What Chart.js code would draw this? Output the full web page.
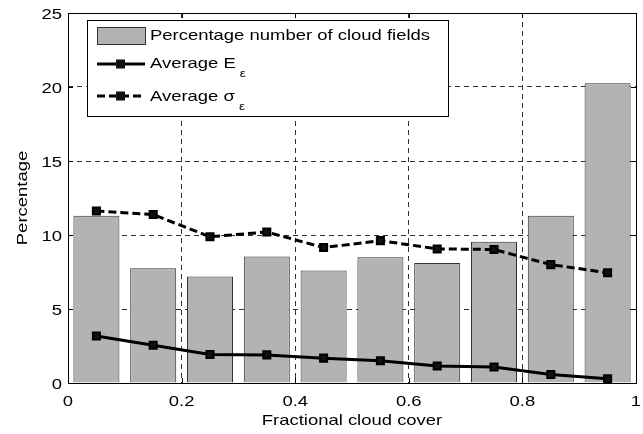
<!DOCTYPE html>
<html>
<head>
<meta charset="utf-8">
<script src="https://cdn.jsdelivr.net/npm/chart.js@4/dist/chart.umd.min.js"></script>
<style>
  body { margin: 0; background: #fff; }
  canvas { display: block; }
</style>
</head>
<body>
<canvas id="cloudChart" width="643" height="434"></canvas>
<script>
// fractional cloud cover bin centres
const cover = [0.05, 0.15, 0.25, 0.35, 0.45, 0.55, 0.65, 0.75, 0.85, 0.95];
const pctFields = [11.3, 7.75, 7.2, 8.55, 7.6, 8.5, 8.1, 9.55, 11.3, 20.25];
const avgE = [3.18, 2.55, 1.93, 1.9, 1.68, 1.5, 1.15, 1.08, 0.58, 0.28];
const avgSigma = [11.62, 11.38, 9.88, 10.2, 9.15, 9.62, 9.06, 9.02, 8.0, 7.45];

const xTicks = [0, 0.2, 0.4, 0.6, 0.8, 1];
const xTickLabels = ['0', '0.2', '0.4', '0.6', '0.8', '1'];
const yTicks = [0, 5, 10, 15, 20, 25];
const yTickLabels = ['0', '5', '10', '15', '20', '25'];
const xTitle = 'Fractional cloud cover';
const yTitle = 'Percentage';

const legendItems = [
    { kind: 'bar', text: 'Percentage number of cloud fields', sub: '' },
    { kind: 'solid', text: 'Average E', sub: 'ε' },
    { kind: 'dashed', text: 'Average σ', sub: 'ε' }
];

const FONT = '"Liberation Sans", Arial, sans-serif';
const STRETCH = 1.23; // original figure's font runs wider than Arial

function pts(values) {
    return cover.map((c, i) => ({ x: c, y: values[i] }));
}

function gridColor(ctx, lo, hi) {
    const v = ctx.tick && ctx.tick.value;
    return (v === lo || v === hi) ? 'rgba(0,0,0,0)' : '#333';
}

// draw text a bit wider, anchored at x,y
function wideText(ctx, text, x, y, align, size, rot) {
    ctx.save();
    ctx.translate(x, y);
    if (rot) ctx.rotate(rot);
    ctx.scale(STRETCH, 1);
    ctx.font = size + 'px ' + FONT;
    ctx.textAlign = align;
    ctx.fillText(text, 0, 0);
    const w = ctx.measureText(text).width * STRETCH;
    ctx.restore();
    return w;
}

// matlab style box, inward ticks, labels and legend
const boxPlugin = {
    id: 'box',
    afterDraw(chart) {
        const { ctx, chartArea: a, scales } = chart;
        ctx.save();
        ctx.strokeStyle = '#000';
        ctx.lineWidth = 1;
        ctx.setLineDash([]);
        ctx.strokeRect(Math.round(a.left) + 0.5, Math.round(a.top) + 0.5,
            Math.round(a.right - a.left), Math.round(a.bottom - a.top));
        ctx.beginPath();
        xTicks.forEach(v => {
            const px = Math.round(scales.x.getPixelForValue(v)) + 0.5;
            ctx.moveTo(px, a.bottom); ctx.lineTo(px, a.bottom - 5);
            ctx.moveTo(px, a.top); ctx.lineTo(px, a.top + 5);
        });
        yTicks.forEach(v => {
            const py = Math.round(scales.y.getPixelForValue(v)) + 0.5;
            ctx.moveTo(a.left, py); ctx.lineTo(a.left + 5, py);
            ctx.moveTo(a.right, py); ctx.lineTo(a.right - 5, py);
        });
        ctx.stroke();

        // tick labels and axis titles
        ctx.fillStyle = '#000';
        ctx.textBaseline = 'alphabetic';
        xTicks.forEach((v, i) => {
            wideText(ctx, xTickLabels[i], scales.x.getPixelForValue(v), a.bottom + 22.5, 'center', 15);
        });
        yTicks.forEach((v, i) => {
            wideText(ctx, yTickLabels[i], a.left - 6, scales.y.getPixelForValue(v) + 5.5, 'right', 15);
        });
        wideText(ctx, xTitle, (a.left + a.right) / 2, a.bottom + 42, 'center', 15);
        wideText(ctx, yTitle, 27, (a.top + a.bottom) / 2, 'center', 15, -Math.PI / 2);

        // legend
        const lx = 87, ly = 20, lw = 361, lh = 96;
        ctx.fillStyle = '#fff';
        ctx.fillRect(lx, ly, lw, lh);
        ctx.strokeStyle = '#000';
        ctx.strokeRect(lx + 0.5, ly + 0.5, lw, lh);
        const rows = [35, 64, 96];
        const baselines = [40, 68, 100.5];
        legendItems.forEach((item, i) => {
            const cy = rows[i];
            if (item.kind === 'bar') {
                ctx.fillStyle = '#b3b3b3';
                ctx.fillRect(97, cy - 8, 48, 17);
                ctx.strokeStyle = '#333';
                ctx.lineWidth = 1;
                ctx.strokeRect(97.5, cy - 7.5, 48, 17);
            } else {
                ctx.strokeStyle = '#000';
                ctx.lineWidth = 3;
                ctx.setLineDash(item.kind === 'dashed' ? [8, 4] : []);
                ctx.beginPath();
                ctx.moveTo(97, cy); ctx.lineTo(145, cy);
                ctx.stroke();
                ctx.setLineDash([]);
                ctx.fillStyle = '#111';
                ctx.fillRect(116, cy - 4.5, 9, 9);
                ctx.lineWidth = 1;
            }
            ctx.fillStyle = '#000';
            const w = wideText(ctx, item.text, 150, baselines[i], 'left', 15);
            if (item.sub) {
                wideText(ctx, item.sub, 150 + w + 4, baselines[i] + 9, 'left', 11);
            }
        });
        ctx.restore();
    }
};

const ctx = document.getElementById('cloudChart').getContext('2d');
const chart = new Chart(ctx, {
    type: 'bar',
    data: {
        datasets: [
            {
                type: 'line',
                label: 'Average σε',
                data: pts(avgSigma),
                borderColor: '#000',
                borderWidth: 3,
                borderDash: [8, 4],
                pointStyle: 'rect',
                pointRadius: 5,
                pointBorderWidth: 2,
                pointBackgroundColor: '#111',
                pointBorderColor: '#000',
                tension: 0,
                order: 1
            },
            {
                type: 'line',
                label: 'Average Eε',
                data: pts(avgE),
                borderColor: '#000',
                borderWidth: 3,
                pointStyle: 'rect',
                pointRadius: 5,
                pointBorderWidth: 2,
                pointBackgroundColor: '#111',
                pointBorderColor: '#000',
                tension: 0,
                order: 0
            },
            {
                type: 'bar',
                label: 'Percentage number of cloud fields',
                data: pts(pctFields),
                backgroundColor: '#b3b3b3',
                borderColor: '#333',
                borderWidth: 1,
                categoryPercentage: 1,
                barPercentage: 0.81,
                order: 2
            }
        ]
    },
    options: {
        responsive: false,
        animation: false,
        layout: { padding: { top: 13, right: 6, left: 0, bottom: 0 } },
        plugins: {
            legend: { display: false },
            tooltip: { enabled: false }
        },
        scales: {
            x: {
                type: 'linear',
                min: 0,
                max: 1,
                offset: false,
                afterFit: s => { s.height = 51; s.paddingLeft = 0; s.paddingRight = 0; },
                afterBuildTicks: s => { s.ticks = xTicks.map(v => ({ value: v })); },
                grid: {
                    offset: false,
                    drawTicks: false,
                    color: c => gridColor(c, 0, 1),
                    lineWidth: 1
                },
                border: { display: false, dash: [5, 4] },
                ticks: { display: false }
            },
            y: {
                min: 0,
                max: 25,
                afterFit: s => { s.width = 68; s.paddingTop = 0; s.paddingBottom = 0; },
                afterBuildTicks: s => { s.ticks = yTicks.map(v => ({ value: v })); },
                grid: {
                    drawTicks: false,
                    color: c => gridColor(c, 0, 25),
                    lineWidth: 1
                },
                border: { display: false, dash: [5, 4] },
                ticks: { display: false }
            }
        }
    },
    plugins: [boxPlugin]
});
</script>
</body>
</html>
